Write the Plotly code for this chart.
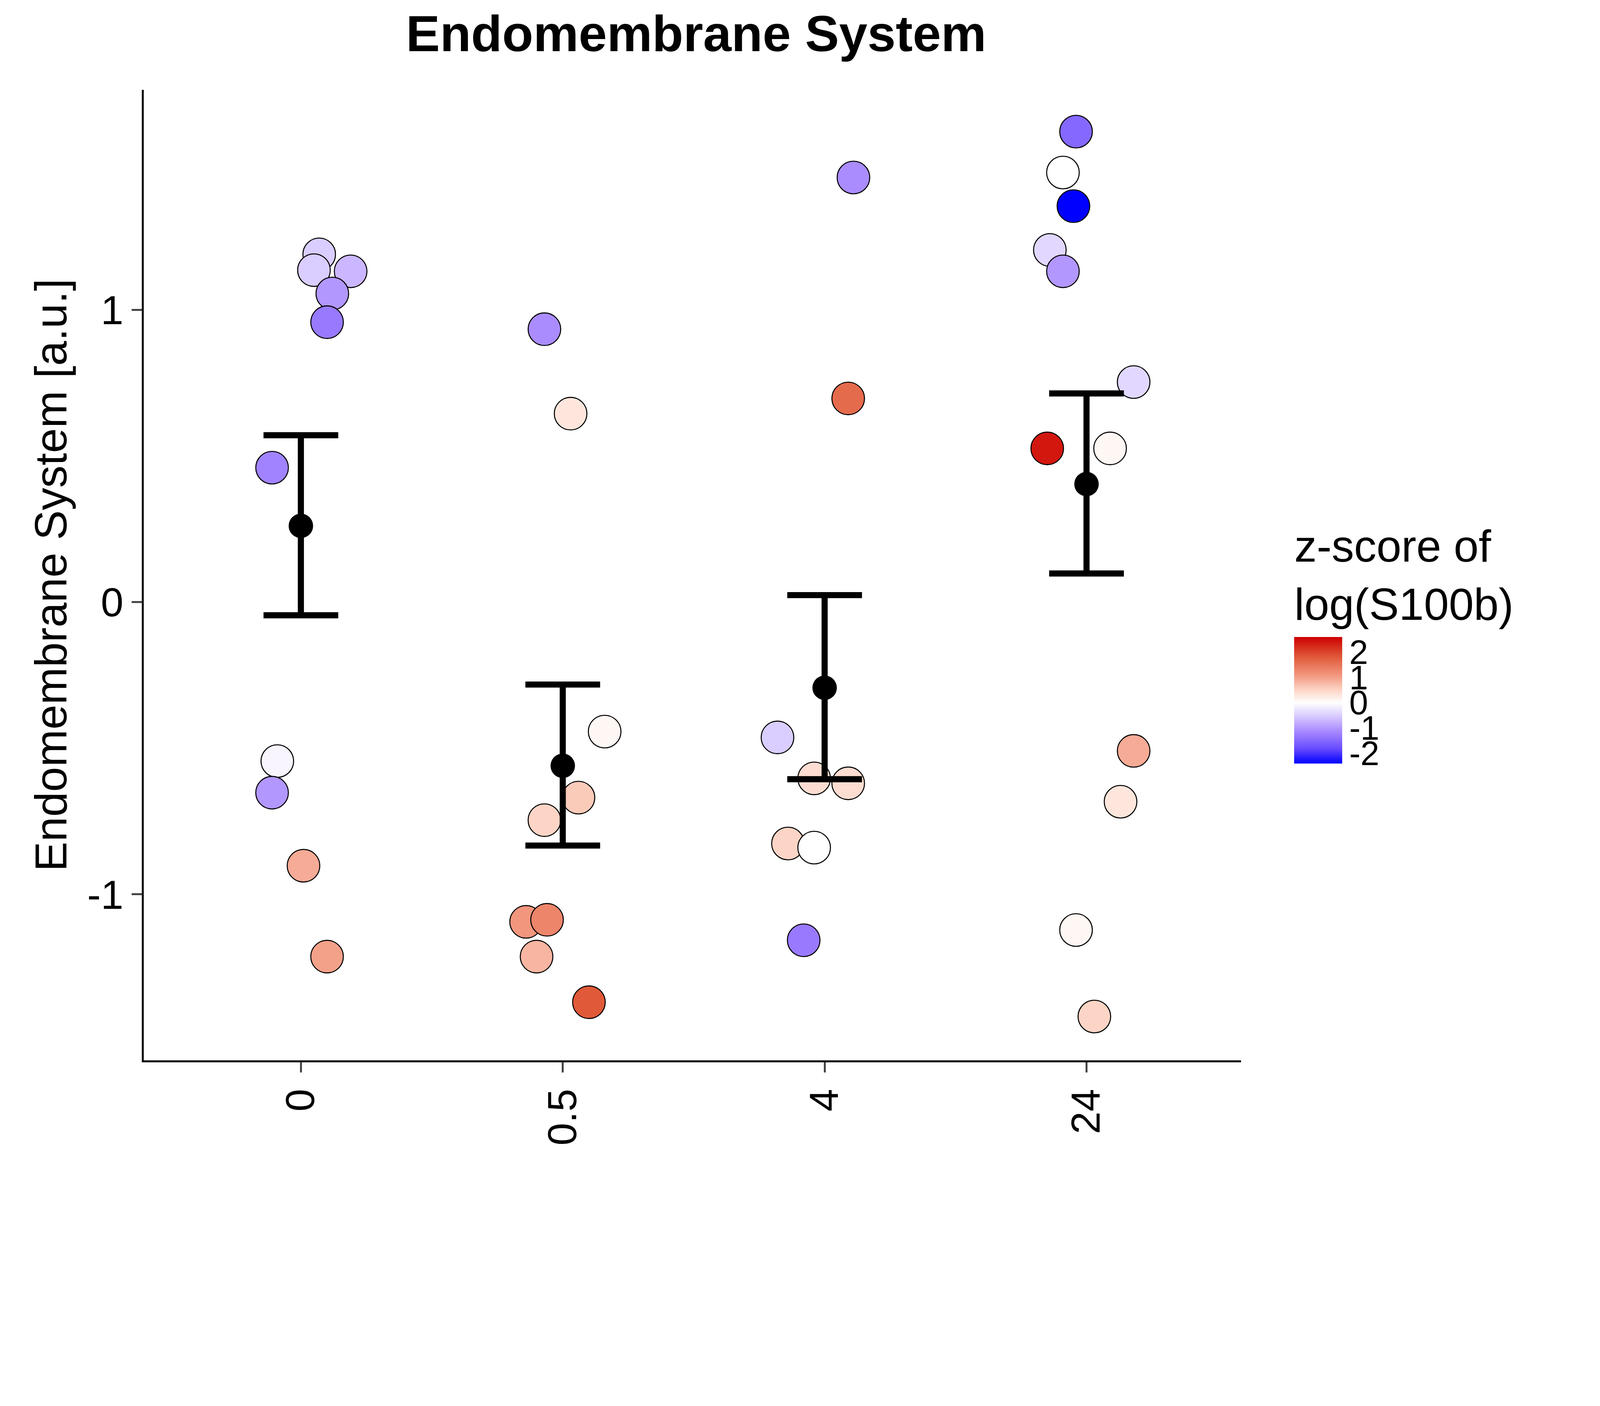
import plotly.graph_objects as go

groups = ["0", "0.5", "4", "24"]

# per-point data: group index, jitter offset, value, z-score colour
pt_group = [0]*10 + [1]*9 + [2]*8 + [3]*12
pt_jitter = [0.07, 0.05, 0.19, 0.12, 0.10, -0.11, -0.09, -0.11, 0.01, 0.10,
             -0.07, 0.03, 0.16, 0.06, -0.07, -0.14, -0.06, -0.10, 0.10,
             0.11, 0.09, -0.18, -0.04, 0.09, -0.14, -0.04, -0.08,
             -0.04, -0.09, -0.05, -0.14, -0.09, 0.18, -0.15, 0.09, 0.18, 0.13, -0.04, 0.03]
pt_value = [1.19, 1.136, 1.132, 1.056, 0.958, 0.46, -0.544, -0.652, -0.902, -1.213,
            0.934, 0.645, -0.443, -0.669, -0.746, -1.094, -1.087, -1.213, -1.369,
            1.453, 0.697, -0.463, -0.603, -0.62, -0.826, -0.84, -1.157,
            1.61, 1.47, 1.355, 1.205, 1.132, 0.753, 0.526, 0.526, -0.509, -0.683, -1.122, -1.418]
pt_z = [-0.5, -0.5, -0.7, -1.0, -1.3, -1.2, -0.1, -1.0, 0.9, 1.0,
        -1.1, 0.3, 0.1, 0.6, 0.5, 1.1, 1.3, 0.8, 1.8,
        -1.1, 1.6, -0.5, 0.4, 0.4, 0.5, 0.0, -1.3,
        -1.5, 0.0, -2.4, -0.4, -1.0, -0.4, 2.4, 0.1, 0.9, 0.3, 0.1, 0.5]

mean_value = [0.261, -0.56, -0.293, 0.404]
err_upper = [0.571, -0.282, 0.024, 0.714]
err_lower = [-0.045, -0.833, -0.606, 0.098]

cbar_ticks = [-2, -1, 0, 1, 2]

zmin, zmax = -2.4, 2.6
s = 1 / 1.15  # page is rendered with ~1.15 device scale


def zpos(z):
    return (z - zmin) / (zmax - zmin)


colorscale = [[0, "#0000FF"], [zpos(-1.8), "#6A4DFF"], [zpos(-1.1), "#AA8CFF"],
              [zpos(-0.5), "#DACDFF"], [zpos(0), "#FFFFFF"], [zpos(0.5), "#FDD5C6"],
              [zpos(1.1), "#F2967E"], [zpos(1.8), "#E05A3A"], [1, "#CD0000"]]

fig = go.Figure()
fig.add_trace(go.Scatter(
    x=[g + j for g, j in zip(pt_group, pt_jitter)], y=pt_value, mode="markers",
    marker=dict(size=96 * s, color=pt_z, cmin=zmin, cmax=zmax, colorscale=colorscale,
                line=dict(color="black", width=3 * s),
                colorbar=dict(title=dict(text="z-score of<br>log(S100b)", side="top",
                                         font=dict(size=132 * s, color="black")),
                              x=1.045, xanchor="left", y=0.428, yanchor="middle",
                              len=0.252, thickness=141 * s, outlinewidth=0,
                              tickvals=cbar_ticks, ticktext=[str(t) for t in cbar_ticks],
                              ticks="", tickfont=dict(size=100 * s, color="black"))),
    showlegend=False))
fig.add_trace(go.Scatter(
    x=list(range(len(groups))), y=mean_value, mode="markers",
    marker=dict(size=72 * s, color="black"),
    error_y=dict(type="data", symmetric=False,
                 array=[u - m for u, m in zip(err_upper, mean_value)],
                 arrayminus=[m - l for m, l in zip(mean_value, err_lower)],
                 color="black", thickness=18 * s, width=110 * s),
    showlegend=False))

fig.update_layout(
    width=int(4680 * s), height=int(3600 * s), plot_bgcolor="white", paper_bgcolor="white",
    font=dict(family="Liberation Sans, Arial", color="black"),
    margin=dict(l=414 * s, r=1035 * s, t=255 * s, b=486 * s),
    title=dict(text="<b>Endomembrane System</b>", x=0.436, xanchor="center",
               y=0.99, yanchor="top", font=dict(size=150 * s)),
    xaxis=dict(range=[-0.6, 3.59], tickvals=list(range(len(groups))), ticktext=groups,
               tickangle=-90, tickfont=dict(size=120 * s), showgrid=False, zeroline=False,
               showline=True, linecolor="black", linewidth=6 * s,
               ticks="outside", ticklen=30 * s, tickwidth=6 * s),
    yaxis=dict(range=[-1.568, 1.753], tickvals=[-1, 0, 1], ticktext=["-1", "0", "1"],
               tickfont=dict(size=120 * s),
               title=dict(text="Endomembrane System [a.u.]", font=dict(size=132 * s)),
               showgrid=False, zeroline=False, showline=True, linecolor="black",
               linewidth=6 * s, ticks="outside", ticklen=30 * s, tickwidth=6 * s))

fig.write_html("out.html")
